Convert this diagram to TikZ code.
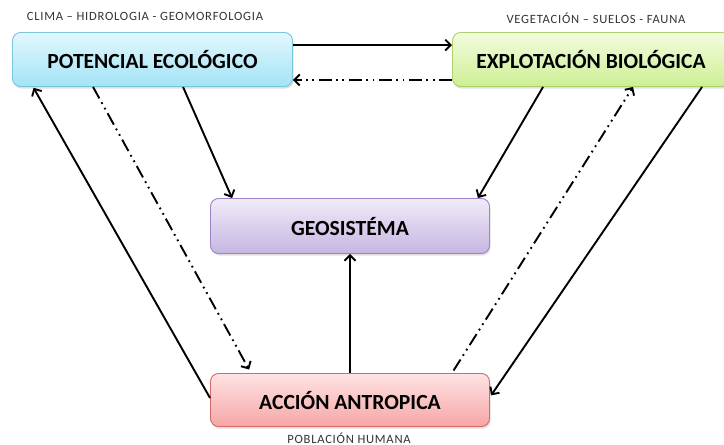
\documentclass[tikz,border=0pt]{standalone}
\usepackage{fontspec}
\setmainfont{Carlito}
\usetikzlibrary{arrows.meta,shadows}
\definecolor{peT}{HTML}{E2F7FD}\definecolor{peB}{HTML}{A3E4F7}\definecolor{peD}{HTML}{7CC4DA}
\definecolor{ebT}{HTML}{F3FCDF}\definecolor{ebB}{HTML}{CDEF94}\definecolor{ebD}{HTML}{A9D16E}
\definecolor{geT}{HTML}{F1ECF8}\definecolor{geB}{HTML}{C6B5E2}\definecolor{geD}{HTML}{9C84C6}
\definecolor{acT}{HTML}{FFE3E3}\definecolor{acB}{HTML}{F6A6A6}\definecolor{acD}{HTML}{D66A6A}
\tikzset{
  box/.style={rectangle, rounded corners=8pt, line width=0.9pt, inner sep=0pt,
    font=\fontsize{21.6}{24}\selectfont\bfseries,
    drop shadow={opacity=0.25, shadow xshift=1pt, shadow yshift=-2pt}},
  captext/.style={font=\fontsize{12.6}{14}\selectfont\addfontfeatures{LetterSpace=6}\color{black!80}, inner sep=0pt, anchor=base},
  arr/.style={line width=1.9pt, -{Straight Barb[length=5.5pt,width=11pt,line width=1.9pt]}},
  dd/.style={arr, dash pattern=on 13pt off 4.5pt on 1.8pt off 4.5pt on 1.8pt off 4.5pt}
}
\begin{document}
\begin{tikzpicture}[x=1pt,y=-1pt]
\useasboundingbox (0,0) rectangle (724,445);
\begin{scope}
\clip (0,0) rectangle (724,445);
\node[box, draw=peD, top color=peT, bottom color=peB, minimum width=280pt, minimum height=54pt] (PE) at (152.5,59.5) {POTENCIAL ECOLÓGICO};
\node[box, draw=ebD, top color=ebT, bottom color=ebB, minimum width=277pt, minimum height=54pt] (EB) at (591,59.5) {EXPLOTACIÓN BIOLÓGICA};
\node[box, draw=geD, top color=geT, bottom color=geB, minimum width=279pt, minimum height=55pt] (GE) at (350,226) {GEOSISTÉMA};
\node[box, draw=acD, top color=acT, bottom color=acB, minimum width=279pt, minimum height=53pt] (AC) at (350,400) {ACCIÓN ANTROPICA};
\end{scope}
\node[captext] (c1) at (145,20.7) {CLIMA – HIDROLOGIA - GEOMORFOLOGIA};
\node[captext] (c2) at (596,23) {VEGETACIÓN – SUELOS - FAUNA};
\node[captext] (c3) at (349,443) {POBLACIÓN HUMANA};
% connectors
\draw[arr] ([yshift=-13pt]PE.north east) -- ([yshift=-13pt]EB.north west);
\draw[dd] ([yshift=7pt]EB.south west) -- ([yshift=7pt]PE.south east);
\draw[arr] ([xshift=171pt]PE.south west) -- ([xshift=22pt]GE.north west);
\draw[dd, shorten >=4pt] ([xshift=81pt]PE.south west) -- ([xshift=41pt]AC.north west);
\draw[arr, shorten >=1pt] ([yshift=2pt]AC.west) -- ([xshift=21pt]PE.south west);
\draw[arr] ([xshift=91pt]EB.south west) -- ([xshift=-12pt]GE.north east);
\draw[dd, shorten <=3pt] ([xshift=-38pt]AC.north east) -- ([xshift=181pt]EB.south west);
\draw[arr, shorten >=2pt] ([xshift=250pt]EB.south west) -- ([yshift=3pt]AC.east);
\draw[arr] (AC.north) -- (GE.south);
\end{tikzpicture}
\end{document}
